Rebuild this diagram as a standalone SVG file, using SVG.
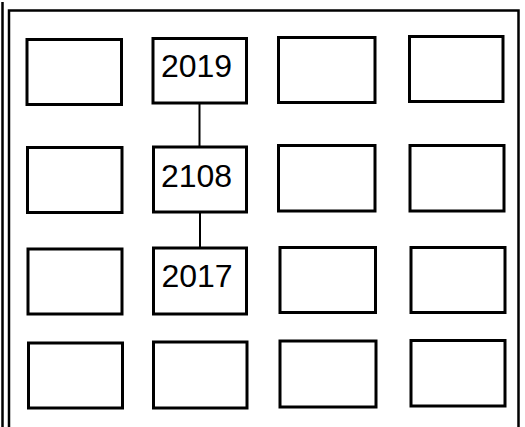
<svg xmlns="http://www.w3.org/2000/svg" width="525" height="427" viewBox="0 0 525 427">
  <style>
    .box { fill: #ffffff; stroke: #000000; stroke-width: 3; }
    .frame { fill: none; stroke: #000000; stroke-width: 2.5; }
    .conn { fill: none; stroke: #000000; stroke-width: 2; }
    .lbl { font-family: "Liberation Sans", Arial, sans-serif; font-size: 32px; fill: #000000; text-anchor: middle; }
  </style>
  <rect x="0" y="0" width="525" height="427" fill="#ffffff"/>
  <g id="frame">
    <line class="frame" x1="2.5" y1="2" x2="2.5" y2="427"/>
    <polyline class="frame" points="9,427 9,10.5 518.5,10.5 518.5,427"/>
  </g>
  <g id="connectors">
    <line class="conn" x1="199.5" y1="103" x2="199.5" y2="147"/>
    <line class="conn" x1="200" y1="212" x2="200" y2="248"/>
  </g>
  <g id="r1c1"><rect class="box" x="27" y="39.5" width="94.5" height="65"/></g>
  <g id="n2019"><rect class="box" x="153" y="38.5" width="93.5" height="64.5"/><text class="lbl" x="196.5" y="77">2019</text></g>
  <g id="r1c3"><rect class="box" x="278.5" y="37.5" width="96.5" height="65"/></g>
  <g id="r1c4"><rect class="box" x="409.5" y="36.5" width="93.5" height="65"/></g>

  <g id="r2c1"><rect class="box" x="27.5" y="147.5" width="94.5" height="65"/></g>
  <g id="n2108"><rect class="box" x="153.5" y="147" width="93" height="65"/><text class="lbl" x="196.5" y="187">2108</text></g>
  <g id="r2c3"><rect class="box" x="278.5" y="145.5" width="96.5" height="65.5"/></g>
  <g id="r2c4"><rect class="box" x="410" y="145.5" width="94" height="65.5"/></g>

  <g id="r3c1"><rect class="box" x="28" y="249" width="94" height="65"/></g>
  <g id="n2017"><rect class="box" x="153.5" y="248" width="93" height="66"/><text class="lbl" x="197" y="287">2017</text></g>
  <g id="r3c3"><rect class="box" x="280" y="247.5" width="95.5" height="65"/></g>
  <g id="r3c4"><rect class="box" x="411" y="247.5" width="94" height="65"/></g>

  <g id="r4c1"><rect class="box" x="28.5" y="343" width="94" height="65"/></g>
  <g id="r4c2"><rect class="box" x="153.5" y="342" width="93.5" height="66"/></g>
  <g id="r4c3"><rect class="box" x="280" y="341" width="96" height="66"/></g>
  <g id="r4c4"><rect class="box" x="411" y="340.5" width="94" height="65.5"/></g>
</svg>
